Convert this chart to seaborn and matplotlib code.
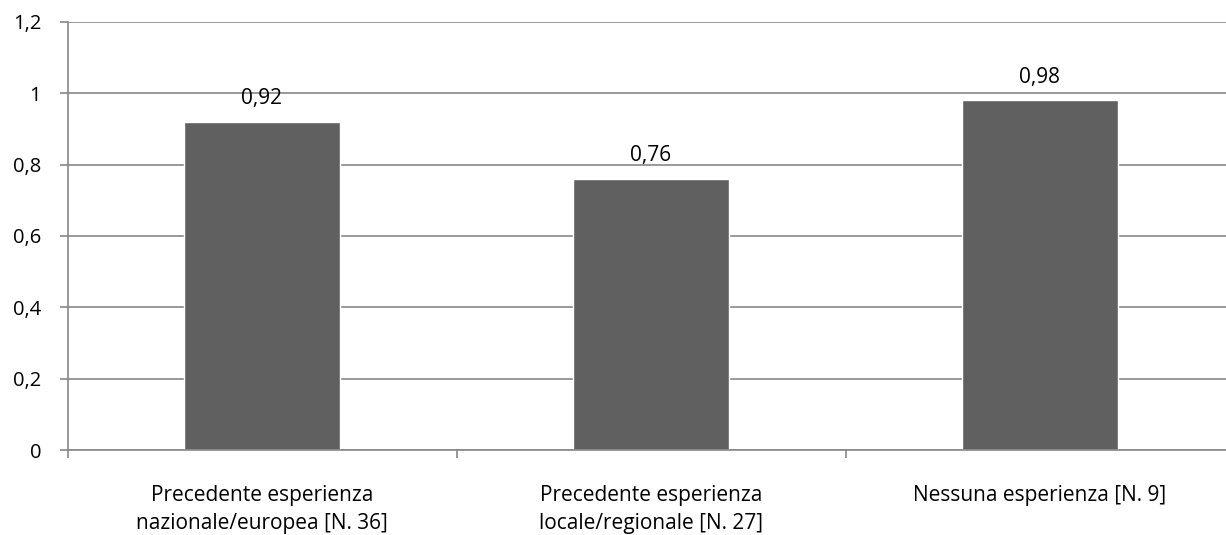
import matplotlib
matplotlib.use("Agg")
import matplotlib.pyplot as plt
import seaborn as sns
import pandas as pd
from matplotlib.ticker import FixedLocator

categories = ["Precedente esperienza\nnazionale/europea [N. 36]",
              "Precedente esperienza\nlocale/regionale [N. 27]",
              "Nessuna esperienza [N. 9]"]
values = [0.92, 0.76, 0.98]
value_labels = ["0,92", "0,76", "0,98"]
y_ticks = [0, 0.2, 0.4, 0.6, 0.8, 1.0, 1.2]
y_tick_labels = ["0", "0,2", "0,4", "0,6", "0,8", "1", "1,2"]

sns.set_theme(style="white")
plt.rcParams['font.family'] = ['Open Sans', 'DejaVu Sans']

df = pd.DataFrame({"cat": categories, "val": values})
fig = plt.figure(figsize=(12.26, 5.35), dpi=100)
ax = fig.add_axes([67.5 / 1226, 85 / 535, 1167 / 1226, 428 / 535])
sns.barplot(data=df, x="cat", y="val", color="#606060", width=0.4, ax=ax, saturation=1)

ax.set_ylim(0, 1.2)
ax.set_xlim(-0.5, 2.5)
ax.set_yticks(y_ticks)
ax.set_yticklabels(y_tick_labels, fontsize=14.5, color="#000000")
ax.yaxis.grid(True, color="#888888", linewidth=1.2)
ax.set_axisbelow(True)
for s in ["top", "right"]:
    ax.spines[s].set_visible(False)
ax.spines["left"].set_color("#888888")
ax.spines["bottom"].set_color("#888888")
ax.spines["left"].set_linewidth(1.2)
ax.spines["bottom"].set_linewidth(1.2)
ax.set_xlabel("")
ax.set_ylabel("")
ax.tick_params(axis="x", which="major", length=0, labelsize=15, pad=25, labelcolor="#000000")
for t in ax.get_xticklabels():
    t.set_linespacing(1.45)
ax.xaxis.set_minor_locator(FixedLocator([-0.5, 0.5, 1.5, 2.5]))
ax.tick_params(axis="x", which="minor", length=6, width=1.2, color="#888888", bottom=True)
ax.tick_params(axis="y", length=6, width=1.2, color="#888888", left=True, pad=13)

for i, (v, lab) in enumerate(zip(values, value_labels)):
    ax.text(i, v + 0.05, lab, ha="center", va="baseline", fontsize=15, color="#000000")

fig.savefig("out.png", dpi=100)
